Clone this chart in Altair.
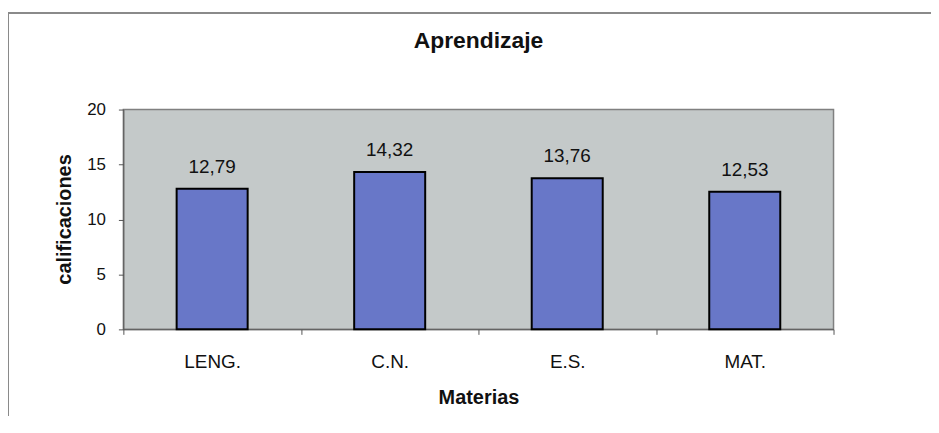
import altair as alt
import pandas as pd

materias = ["LENG.", "C.N.", "E.S.", "MAT."]
calificaciones = [12.79, 14.32, 13.76, 12.53]
y_ticks = [0, 5, 10, 15, 20]

df = pd.DataFrame({
    "materia": materias,
    "valor": calificaciones,
    "etiqueta": [f"{v:.2f}".replace(".", ",") for v in calificaciones],
})

FONT = "Liberation Sans"
BAR = "#6877C8"
PLOT_BG = "#C4C9C9"

x = alt.X(
    "materia:N",
    sort=materias,
    scale=alt.Scale(paddingInner=0, paddingOuter=0),
    axis=alt.Axis(
        title="Materias",
        labelAngle=0,
        labelFont=FONT,
        labelFontSize=19,
        labelColor="#111111",
        labelPadding=18,
        tickBand="extent",
        tickSize=5,
        tickColor="#555555",
        domainColor="#555555",
        titleFont=FONT,
        titleFontSize=20,
        titleFontWeight="bold",
        titleColor="#111111",
        titleBaseline="alphabetic",
        titleY=75,
    ),
)
y = alt.Y(
    "valor:Q",
    scale=alt.Scale(domain=[0, 20]),
    axis=alt.Axis(
        title="calificaciones",
        values=y_ticks,
        grid=False,
        labelFont=FONT,
        labelFontSize=17,
        labelColor="#111111",
        labelPadding=13,
        tickSize=5,
        tickColor="#555555",
        domainColor="#555555",
        titleFont=FONT,
        titleFontSize=20,
        titleFontWeight="bold",
        titleColor="#111111",
        titleAngle=270,
        titleBaseline="middle",
        titleX=-59,
        titleY=110,
    ),
)

base = alt.Chart(df)

bars = base.mark_bar(
    color=BAR, stroke="#000000", strokeWidth=2, width={"band": 0.4}
).encode(x=x, y=y)

labels = base.mark_text(
    font=FONT, fontSize=19, color="#111111", baseline="alphabetic", dy=-16
).encode(x=x, y=y, text="etiqueta:N")

# outer chart frame (decoration)
frame_top = alt.Chart(df).mark_rule(color="#8a8a8a", strokeWidth=1.5).encode(
    x=alt.value(-116), x2=alt.value(812), y=alt.value(-97)
)
frame_left = alt.Chart(df).mark_rule(color="#8a8a8a", strokeWidth=1.5).encode(
    x=alt.value(-116), y=alt.value(-97), y2=alt.value(330)
)

chart = (
    alt.layer(bars, labels, frame_top, frame_left)
    .properties(
        width=714,
        height=221,
        view=alt.ViewBackground(fill=PLOT_BG, stroke="#808080", strokeWidth=1.5),
        title=alt.TitleParams(
            "Aprendizaje",
            font=FONT,
            fontSize=23,
            fontWeight="bold",
            color="#111111",
            anchor="middle",
            baseline="alphabetic",
            offset=-59,
        ),
        autosize=alt.AutoSizeParams(type="none"),
        padding={"left": 116, "top": 101, "right": 98, "bottom": 86},
    )
    .configure(background="white")
)

chart.save("out.html", embed_options={"renderer": "svg", "actions": False})
